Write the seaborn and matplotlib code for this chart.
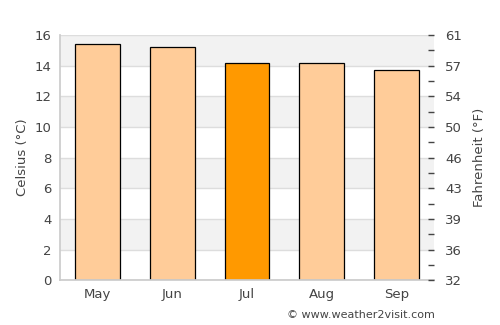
import matplotlib
matplotlib.use('Agg')
import matplotlib.pyplot as plt
import seaborn as sns
import pandas as pd

months = ['May', 'Jun', 'Jul', 'Aug', 'Sep']
celsius = [15.4, 15.2, 14.15, 14.15, 13.75]
highlight = 'Jul'

c_ticks = list(range(0, 17, 2))
f_labels = ['32', '36', '39', '43', '46', '50', '54', '57', '61']

sns.set_theme(style='white')
plt.rcParams['font.family'] = ['DejaVu Sans']
text_col = '#444444'

df = pd.DataFrame({'month': months, 'temp': celsius})
palette = {m: ('#ff9900' if m == highlight else '#ffcc99') for m in months}

fig = plt.figure(figsize=(5, 3.25), dpi=100)
ax = fig.add_axes([0.12, 0.138, 0.748, 0.754])

# alternating background bands
for lo in range(0, 16, 2):
    if (lo // 2) % 2 == 1:
        ax.axhspan(lo, lo + 2, color='#f2f2f2', zorder=0, lw=0)
for t in c_ticks:
    ax.axhline(t, color='#dddddd', lw=1, zorder=0.5)

sns.barplot(data=df, x='month', y='temp', hue='month', palette=palette,
            order=months, width=0.6, edgecolor='black', linewidth=0.9,
            saturation=1, legend=False, ax=ax, zorder=2)

ax.set_ylim(0, 16)
ax.set_xlim(-0.5, len(months) - 0.5)
ax.set_yticks(c_ticks)
ax.set_xlabel('')
ax.set_ylabel('Celsius (°C)', color=text_col, fontsize=9.5)
ax.tick_params(axis='both', colors=text_col, labelsize=9.5, length=0, pad=6)
for s in ['top', 'right']:
    ax.spines[s].set_visible(False)
for s in ['left', 'bottom']:
    ax.spines[s].set_color('#cccccc')

ax2 = ax.twinx()
ax2.set_ylim(0, 16)
ax2.set_yticks(c_ticks)
ax2.set_yticklabels(f_labels)
ax2.set_yticks(range(1, 16, 2), minor=True)
ax2.tick_params(axis='y', which='both', colors=text_col, labelsize=9.5,
                length=4, width=1, direction='in')
ax2.tick_params(axis='y', which='major', pad=8)
ax2.set_ylabel('Fahrenheit (°F)', color=text_col, fontsize=9.5, labelpad=8)
for s in ['top', 'left', 'bottom', 'right']:
    ax2.spines[s].set_visible(False)

fig.text(0.87, 0.03, '© www.weather2visit.com', ha='right', va='center',
         color=text_col, fontsize=8)

fig.savefig('out.png', dpi=100)
